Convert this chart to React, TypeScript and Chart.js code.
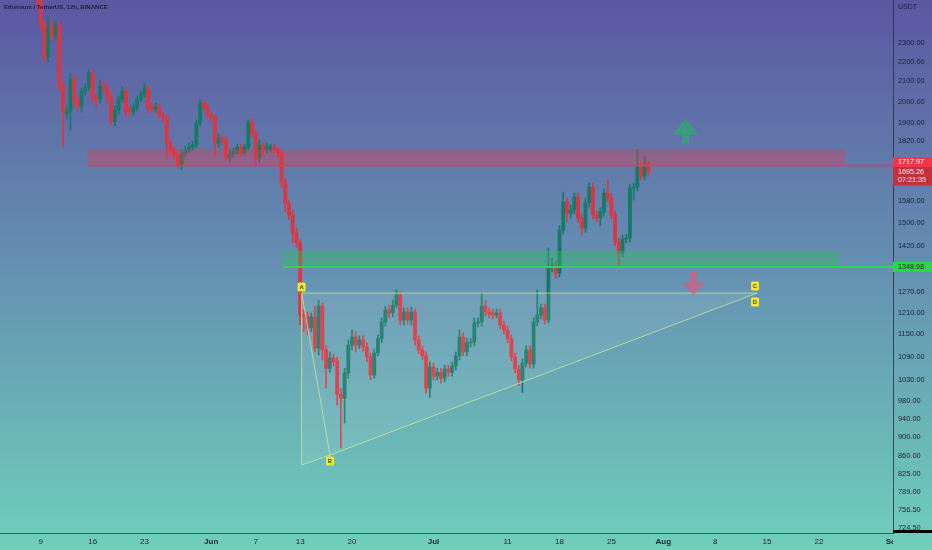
import React, { useEffect, useRef } from 'react';
import { Chart, registerables } from 'chart.js';

Chart.register(...registerables);

// time unit: days since 1 May 2022 (00:00). 12h candles.
const FIRST_CANDLE_DAY = 7.5;
const CANDLE_STEP = 0.5;

const OPEN = [
  2803, 2641, 2401, 2225, 2390, 2338, 2401, 2081, 1942, 1956,
  2111, 2008, 1979, 2051, 2071, 2142, 2022, 2013, 2076, 2066,
  2022, 1906, 1961, 2013, 2051, 1961, 1951, 1970, 2013, 2037,
  2066, 1975, 1965, 1975, 1937, 1924, 1812, 1783, 1761, 1720,
  1765, 1783, 1795, 1804, 1901, 1994, 1975, 1937, 1928, 1812,
  1834, 1825, 1753, 1765, 1778, 1795, 1770, 1795, 1906, 1856,
  1749, 1804, 1783, 1787, 1795, 1783, 1770, 1652, 1571, 1527,
  1463, 1429, 1203, 1198, 1167, 1198, 1112, 1229, 1107, 1060,
  1086, 1079, 996, 987, 1048, 1120, 1142, 1120, 1134, 1115,
  1089, 1043, 1099, 1137, 1184, 1218, 1209, 1232, 1262, 1189,
  1212, 1189, 1212, 1134, 1107, 1092, 1011, 1063, 1040, 1050,
  1035, 1058, 1050, 1066, 1092, 1142, 1102, 1126, 1128, 1181,
  1184, 1229, 1212, 1209, 1203, 1209, 1175, 1161, 1137, 1089,
  1058, 1031, 1073, 1107, 1071, 1184, 1203, 1224, 1189, 1349,
  1355, 1330, 1473, 1575, 1534, 1545, 1594, 1516, 1480, 1571,
  1632, 1527, 1516, 1538, 1609, 1590, 1527, 1432, 1395, 1442,
  1446, 1628, 1632, 1712, 1675, 1712,
];

const CLOSE = [
  2641, 2401, 2225, 2390, 2338, 2401, 2081, 1947, 1956, 2111,
  2008, 1979, 2051, 2071, 2142, 2022, 2013, 2076, 2066, 2022,
  1906, 1961, 2013, 2051, 1951, 1951, 1975, 2013, 2037, 2066,
  1970, 1965, 1975, 1937, 1924, 1812, 1783, 1761, 1720, 1765,
  1783, 1795, 1804, 1901, 1994, 1975, 1937, 1928, 1812, 1834,
  1825, 1753, 1765, 1778, 1795, 1770, 1795, 1906, 1856, 1749,
  1804, 1783, 1800, 1795, 1783, 1770, 1652, 1571, 1527, 1463,
  1429, 1203, 1198, 1167, 1198, 1112, 1229, 1107, 1060, 1086,
  1076, 996, 987, 1048, 1120, 1142, 1120, 1134, 1115, 1089,
  1043, 1099, 1137, 1184, 1218, 1209, 1232, 1262, 1189, 1212,
  1189, 1212, 1134, 1107, 1092, 1011, 1063, 1040, 1050, 1035,
  1058, 1050, 1066, 1092, 1142, 1102, 1126, 1128, 1181, 1184,
  1229, 1212, 1206, 1203, 1209, 1175, 1161, 1137, 1089, 1058,
  1031, 1073, 1107, 1071, 1184, 1203, 1224, 1189, 1349, 1355,
  1330, 1473, 1575, 1534, 1545, 1594, 1516, 1480, 1571, 1632,
  1527, 1516, 1538, 1609, 1590, 1527, 1432, 1395, 1442, 1446,
  1628, 1632, 1712, 1675, 1712, 1695.26,
];

const HIGH = [
  2870, 2672, 2418, 2447, 2430, 2430, 2418, 2096, 1984, 2142,
  2131, 2027, 2066, 2086, 2157, 2152, 2037, 2106, 2106, 2086,
  2037, 1979, 2027, 2071, 2066, 1979, 1989, 2027, 2051, 2091,
  2076, 1989, 1994, 1989, 1951, 1937, 1825, 1795, 1774, 1783,
  1800, 1812, 1821, 1915, 2008, 2008, 1989, 1951, 1937, 1851,
  1847, 1838, 1783, 1791, 1808, 1808, 1808, 1915, 1919, 1869,
  1825, 1817, 1812, 1808, 1808, 1795, 1783, 1667, 1582, 1545,
  1480, 1439, 1218, 1212, 1209, 1229, 1247, 1238, 1118, 1102,
  1097, 1089, 1011, 1060, 1134, 1161, 1156, 1145, 1145, 1126,
  1099, 1110, 1147, 1195, 1229, 1232, 1247, 1277, 1271, 1224,
  1224, 1227, 1221, 1145, 1118, 1102, 1076, 1073, 1060, 1060,
  1068, 1068, 1076, 1102, 1161, 1153, 1139, 1139, 1195, 1195,
  1268, 1247, 1224, 1221, 1221, 1221, 1186, 1172, 1147, 1099,
  1068, 1084, 1118, 1118, 1195, 1277, 1235, 1235, 1412, 1378,
  1368, 1488, 1613, 1590, 1564, 1609, 1609, 1531, 1590, 1648,
  1648, 1542, 1553, 1625, 1660, 1605, 1542, 1446, 1456, 1459,
  1644, 1648, 1783, 1732, 1757, 1741,
];

const LOW = [
  2500, 2372, 2198, 2198, 2316, 2316, 2056, 1795, 1915, 1869,
  1970, 1961, 1951, 2032, 2056, 1998, 1970, 1994, 2046, 1998,
  1892, 1888, 1942, 1998, 1928, 1933, 1937, 1956, 1998, 2022,
  1947, 1947, 1951, 1924, 1906, 1753, 1765, 1749, 1708, 1700,
  1753, 1770, 1783, 1791, 1888, 1961, 1924, 1910, 1761, 1795,
  1804, 1741, 1732, 1753, 1765, 1757, 1757, 1783, 1838, 1720,
  1732, 1761, 1770, 1774, 1770, 1753, 1628, 1538, 1509, 1429,
  1412, 1175, 1156, 1147, 1156, 1102, 1094, 1081, 1011, 1050,
  1066, 971, 877, 930, 1035, 1107, 1102, 1110, 1104, 1076,
  1031, 1035, 1092, 1126, 1172, 1195, 1198, 1224, 1175, 1175,
  1178, 1175, 1120, 1097, 1081, 999, 989, 1031, 1031, 1023,
  1026, 1040, 1040, 1055, 1081, 1092, 1092, 1115, 1118, 1170,
  1172, 1201, 1195, 1192, 1195, 1164, 1150, 1126, 1079, 1048,
  1018, 1001, 1063, 1060, 1060, 1172, 1192, 1178, 1181, 1333,
  1314, 1317, 1459, 1502, 1516, 1531, 1502, 1456, 1466, 1556,
  1513, 1502, 1488, 1523, 1575, 1513, 1419, 1349, 1382, 1429,
  1432, 1582, 1617, 1660, 1660, 1675,
];

const X_TICKS = [8, 15, 22, 31, 37, 43, 50, 61, 71, 78, 85, 92, 99, 106, 113];
const X_LABELS = ['9', '16', '23', 'Jun', '7', '13', '20', 'Jul', '11', '18', '25', 'Aug', '8', '15', '22'];
const MONTH_LABELS = ['Jun', 'Jul', 'Aug'];
const CLIPPED_X_TICK = { value: 123, label: 'Sep' };

const Y_TICKS = [
  2300, 2200, 2100, 2000, 1900, 1820, 1580, 1500, 1420, 1270, 1210, 1150,
  1090, 1030, 980, 940, 900, 860, 825, 789, 756.5, 724.5,
];

const X_MIN = 2.5;
const X_MAX = 123;
const Y_MIN = 716;
const Y_MAX = 2548;

const TITLE = 'Ethereum / TetherUS, 12h, BINANCE';
const CURRENCY = 'USDT';
const LAST_PRICE = 1695.26;
const COUNTDOWN = '07:21:35';

const RESISTANCE = { price: 1717.97, top: 1785, from: 14.35, to: 116.6 };
const SUPPORT = { price: 1348.98, top: 1402, from: 40.7, to: 115.6 };

const PATTERN_A = { x: 43.2, y: 1268 };
const PATTERN_BASE = { x: 43.2, y: 842 };
const PATTERN_B = { x: 47.03, y: 862 };
const PATTERN_C = { x: 104.65, y: 1268 };

const UP_ARROW = { x: 95.0, tip: 1921, base: 1849, tail: 1812 };
const DOWN_ARROW = { x: 96.08, tip: 1262, base: 1300, tail: 1333 };

const FAMILY = '"Liberation Sans", Arial, sans-serif';
const UP_COLOR = '#177a68';
const DOWN_COLOR = '#dc3642';
const TEXT_COLOR = '#1d2130';

function arrow(ctx: CanvasRenderingContext2D, cx: number, tipY: number, baseY: number, tailY: number, halfHead: number, halfStem: number) {
  ctx.beginPath();
  ctx.moveTo(cx, tipY);
  ctx.lineTo(cx + halfHead, baseY);
  ctx.lineTo(cx + halfStem, baseY);
  ctx.lineTo(cx + halfStem, tailY);
  ctx.lineTo(cx - halfStem, tailY);
  ctx.lineTo(cx - halfStem, baseY);
  ctx.lineTo(cx - halfHead, baseY);
  ctx.closePath();
  ctx.fill();
}

function tag(ctx: CanvasRenderingContext2D, cx: number, cy: number, text: string) {
  ctx.fillStyle = '#f3e928';
  ctx.beginPath();
  const w = 8, h = 9;
  ctx.roundRect ? ctx.roundRect(cx - w / 2, cy - h / 2, w, h, 1.5) : ctx.rect(cx - w / 2, cy - h / 2, w, h);
  ctx.fill();
  ctx.fillStyle = '#4a4a10';
  ctx.font = `bold 6px ${FAMILY}`;
  ctx.textAlign = 'center';
  ctx.textBaseline = 'middle';
  ctx.fillText(text, cx, cy + 0.5);
}

const overlayPlugin = {
  id: 'overlay',
  beforeDraw(chart: any) {
    const { ctx, width, height } = chart;
    ctx.save();
    const g = ctx.createLinearGradient(0, 0, 0, height);
    g.addColorStop(0, '#5b57a2');
    g.addColorStop(0.5, '#6592b2');
    g.addColorStop(1, '#6fd0bb');
    ctx.fillStyle = g;
    ctx.fillRect(0, 0, width, height);
    ctx.restore();
  },
  afterDatasetsDraw(chart: any) {
    const { ctx, chartArea: a, scales } = chart;
    const x = scales.x, y = scales.y;
    ctx.save();
    ctx.beginPath();
    ctx.rect(a.left, a.top, a.right - a.left, a.bottom - a.top);
    ctx.clip();

    // current price dotted line
    const lp = y.getPixelForValue(LAST_PRICE);
    ctx.strokeStyle = 'rgba(235,60,75,0.55)';
    ctx.lineWidth = 1;
    ctx.setLineDash([1, 2]);
    ctx.beginPath();
    ctx.moveTo(a.left, Math.round(lp) + 0.5);
    ctx.lineTo(a.right, Math.round(lp) + 0.5);
    ctx.stroke();
    ctx.setLineDash([]);

    // resistance zone
    const rx1 = x.getPixelForValue(RESISTANCE.from), rx2 = x.getPixelForValue(RESISTANCE.to);
    const ry1 = y.getPixelForValue(RESISTANCE.top), ry2 = y.getPixelForValue(RESISTANCE.price);
    ctx.fillStyle = 'rgba(242,54,69,0.32)';
    ctx.fillRect(rx1, ry1, rx2 - rx1, ry2 - ry1);
    ctx.strokeStyle = '#f0364a';
    ctx.lineWidth = 1.6;
    ctx.beginPath();
    ctx.moveTo(rx1, ry2);
    ctx.lineTo(a.right, ry2);
    ctx.stroke();

    // support zone
    const sx1 = x.getPixelForValue(SUPPORT.from), sx2 = x.getPixelForValue(SUPPORT.to);
    const sy1 = y.getPixelForValue(SUPPORT.top), sy2 = y.getPixelForValue(SUPPORT.price);
    ctx.fillStyle = 'rgba(45,190,95,0.4)';
    ctx.fillRect(sx1, sy1, sx2 - sx1, sy2 - sy1);
    ctx.strokeStyle = '#33d15a';
    ctx.lineWidth = 2;
    ctx.beginPath();
    ctx.moveTo(sx1, sy2);
    ctx.lineTo(a.right, sy2);
    ctx.stroke();

    // pattern
    const P = (p: { x: number; y: number }) => [x.getPixelForValue(p.x), y.getPixelForValue(p.y)];
    const [ax, ay] = P(PATTERN_A);
    const [bx0, by0] = P(PATTERN_BASE);
    const [bx, by] = P(PATTERN_B);
    const [cx, cy] = P(PATTERN_C);
    ctx.fillStyle = 'rgba(255,255,255,0.08)';
    ctx.beginPath();
    ctx.moveTo(ax, ay);
    ctx.lineTo(cx, cy);
    ctx.lineTo(bx, by);
    ctx.lineTo(bx0, by0);
    ctx.closePath();
    ctx.fill();
    ctx.strokeStyle = 'rgba(215,235,150,0.7)';
    ctx.lineWidth = 1;
    ctx.beginPath();
    ctx.moveTo(ax, ay); ctx.lineTo(cx, cy);
    ctx.moveTo(bx, by); ctx.lineTo(cx, cy);
    ctx.moveTo(ax, ay); ctx.lineTo(bx0, by0); ctx.lineTo(bx, by);
    ctx.moveTo(ax, ay); ctx.lineTo(bx, by);
    ctx.stroke();
    tag(ctx, ax, ay - 6, 'A');
    tag(ctx, bx, by + 6, 'B');
    tag(ctx, cx - 2, cy - 7, 'C');
    tag(ctx, cx - 2, cy + 9, 'D');

    // arrows
    ctx.fillStyle = 'rgba(45,170,105,0.75)';
    arrow(ctx, x.getPixelForValue(UP_ARROW.x), y.getPixelForValue(UP_ARROW.tip), y.getPixelForValue(UP_ARROW.base), y.getPixelForValue(UP_ARROW.tail), 12.5, 3.5);
    ctx.fillStyle = 'rgba(232,85,118,0.62)';
    arrow(ctx, x.getPixelForValue(DOWN_ARROW.x), y.getPixelForValue(DOWN_ARROW.tip), y.getPixelForValue(DOWN_ARROW.base), y.getPixelForValue(DOWN_ARROW.tail), 11.5, 3.5);

    ctx.restore();
  },
  afterDraw(chart: any) {
    const { ctx, chartArea: a, scales, width } = chart;
    const x = scales.x, y = scales.y;
    ctx.save();
    // title
    ctx.fillStyle = TEXT_COLOR;
    ctx.font = `600 10px ${FAMILY}`;
    const w10 = ctx.measureText(TITLE).width;
    ctx.font = `600 ${(10 * 104) / w10}px ${FAMILY}`;
    ctx.textAlign = 'left';
    ctx.textBaseline = 'middle';
    ctx.fillText(TITLE, 4, 7.5);

    ctx.font = `7px ${FAMILY}`;
    ctx.fillText(CURRENCY, a.right + 5, 7.5);

    // price labels on axis
    const axW = width - a.right;
    const rp = y.getPixelForValue(RESISTANCE.price);
    ctx.fillStyle = '#f23645';
    ctx.fillRect(a.right, rp - 8, axW, 9.5);
    ctx.fillStyle = '#c4303b';
    ctx.fillRect(a.right, rp + 1.5, axW, 18.5);
    ctx.fillStyle = '#ffffff';
    ctx.font = `7.2px ${FAMILY}`;
    ctx.fillText(RESISTANCE.price.toFixed(2), a.right + 5, rp - 3.2);
    ctx.fillText(LAST_PRICE.toFixed(2), a.right + 5, rp + 6.3);
    ctx.fillText(COUNTDOWN, a.right + 5, rp + 14.8);

    const sp = y.getPixelForValue(SUPPORT.price);
    ctx.fillStyle = '#2fd34f';
    ctx.fillRect(a.right, sp - 5, axW, 10);
    ctx.fillStyle = '#12251a';
    ctx.fillText(SUPPORT.price.toFixed(2), a.right + 5, sp);

    // black marker at bottom of price axis
    ctx.fillStyle = '#000000';
    ctx.fillRect(a.right, a.bottom - 3, axW, 3);

    // clipped last time label
    ctx.beginPath();
    ctx.rect(0, a.bottom, a.right, chart.height - a.bottom);
    ctx.clip();
    ctx.fillStyle = TEXT_COLOR;
    ctx.font = `bold 8px ${FAMILY}`;
    ctx.textAlign = 'center';
    ctx.fillText(CLIPPED_X_TICK.label, x.getPixelForValue(CLIPPED_X_TICK.value), a.bottom + 8.5);
    ctx.restore();
  },
};

export default function App() {
  const ref = useRef<HTMLCanvasElement | null>(null);

  useEffect(() => {
    const canvas = ref.current;
    if (!canvas) return;
    const times = OPEN.map((_, i) => FIRST_CANDLE_DAY + i * CANDLE_STEP);
    const colors = OPEN.map((o, i) => (CLOSE[i] >= o ? UP_COLOR : DOWN_COLOR));

    const chart = new Chart(canvas, {
      type: 'bar',
      data: {
        datasets: [
          {
            label: 'wick',
            data: times.map((t, i) => ({ x: t, y: [LOW[i], HIGH[i]] })) as any,
            backgroundColor: colors,
            borderWidth: 0,
            barThickness: 1,
            grouped: false,
          } as any,
          {
            label: 'body',
            data: times.map((t, i) => ({ x: t, y: [OPEN[i], CLOSE[i]] })) as any,
            backgroundColor: colors,
            borderColor: colors,
            borderWidth: 0,
            barThickness: 3.2,
            grouped: false,
          } as any,
        ],
      },
      options: {
        responsive: false,
        animation: false,
        events: [],
        layout: { padding: 0 },
        plugins: {
          legend: { display: false },
          tooltip: { enabled: false },
          title: { display: false },
        },
        scales: {
          x: {
            type: 'linear',
            min: X_MIN,
            max: X_MAX,
            offset: false,
            grid: { display: false, drawTicks: false },
            border: { display: true, color: 'rgba(35,55,75,0.75)', width: 1 },
            afterBuildTicks: (s: any) => {
              s.ticks = X_TICKS.map((v) => ({ value: v }));
            },
            afterFit: (s: any) => {
              s.height = 17;
              s.paddingLeft = 0;
              s.paddingRight = 0;
            },
            ticks: {
              autoSkip: false,
              maxRotation: 0,
              minRotation: 0,
              padding: 4,
              color: TEXT_COLOR,
              font: (c: any) => {
                const lbl = X_LABELS[X_TICKS.indexOf(c.tick ? c.tick.value : -1)];
                return { family: FAMILY, size: 8, weight: MONTH_LABELS.includes(lbl) ? 'bold' : 'normal' } as any;
              },
              callback: (v: any) => X_LABELS[X_TICKS.indexOf(Number(v))] ?? '',
            },
          } as any,
          y: {
            type: 'logarithmic',
            position: 'right',
            min: Y_MIN,
            max: Y_MAX,
            grid: { display: false, drawTicks: false },
            border: { display: true, color: 'rgba(35,45,70,0.8)', width: 1 },
            afterBuildTicks: (s: any) => {
              s.ticks = Y_TICKS.map((v) => ({ value: v }));
            },
            afterFit: (s: any) => {
              s.width = 39;
              s.paddingTop = 0;
              s.paddingBottom = 0;
            },
            ticks: {
              autoSkip: false,
              padding: 5,
              color: TEXT_COLOR,
              font: { family: FAMILY, size: 7.4 },
              callback: (v: any) => Number(v).toFixed(2),
            },
          } as any,
        },
      },
      plugins: [overlayPlugin],
    });

    return () => chart.destroy();
  }, []);

  return (
    <div style={{ position: 'fixed', left: 0, top: 0, width: 932, height: 550 }}>
      <canvas ref={ref} width={932} height={550} style={{ display: 'block', width: 932, height: 550 }} />
    </div>
  );
}
